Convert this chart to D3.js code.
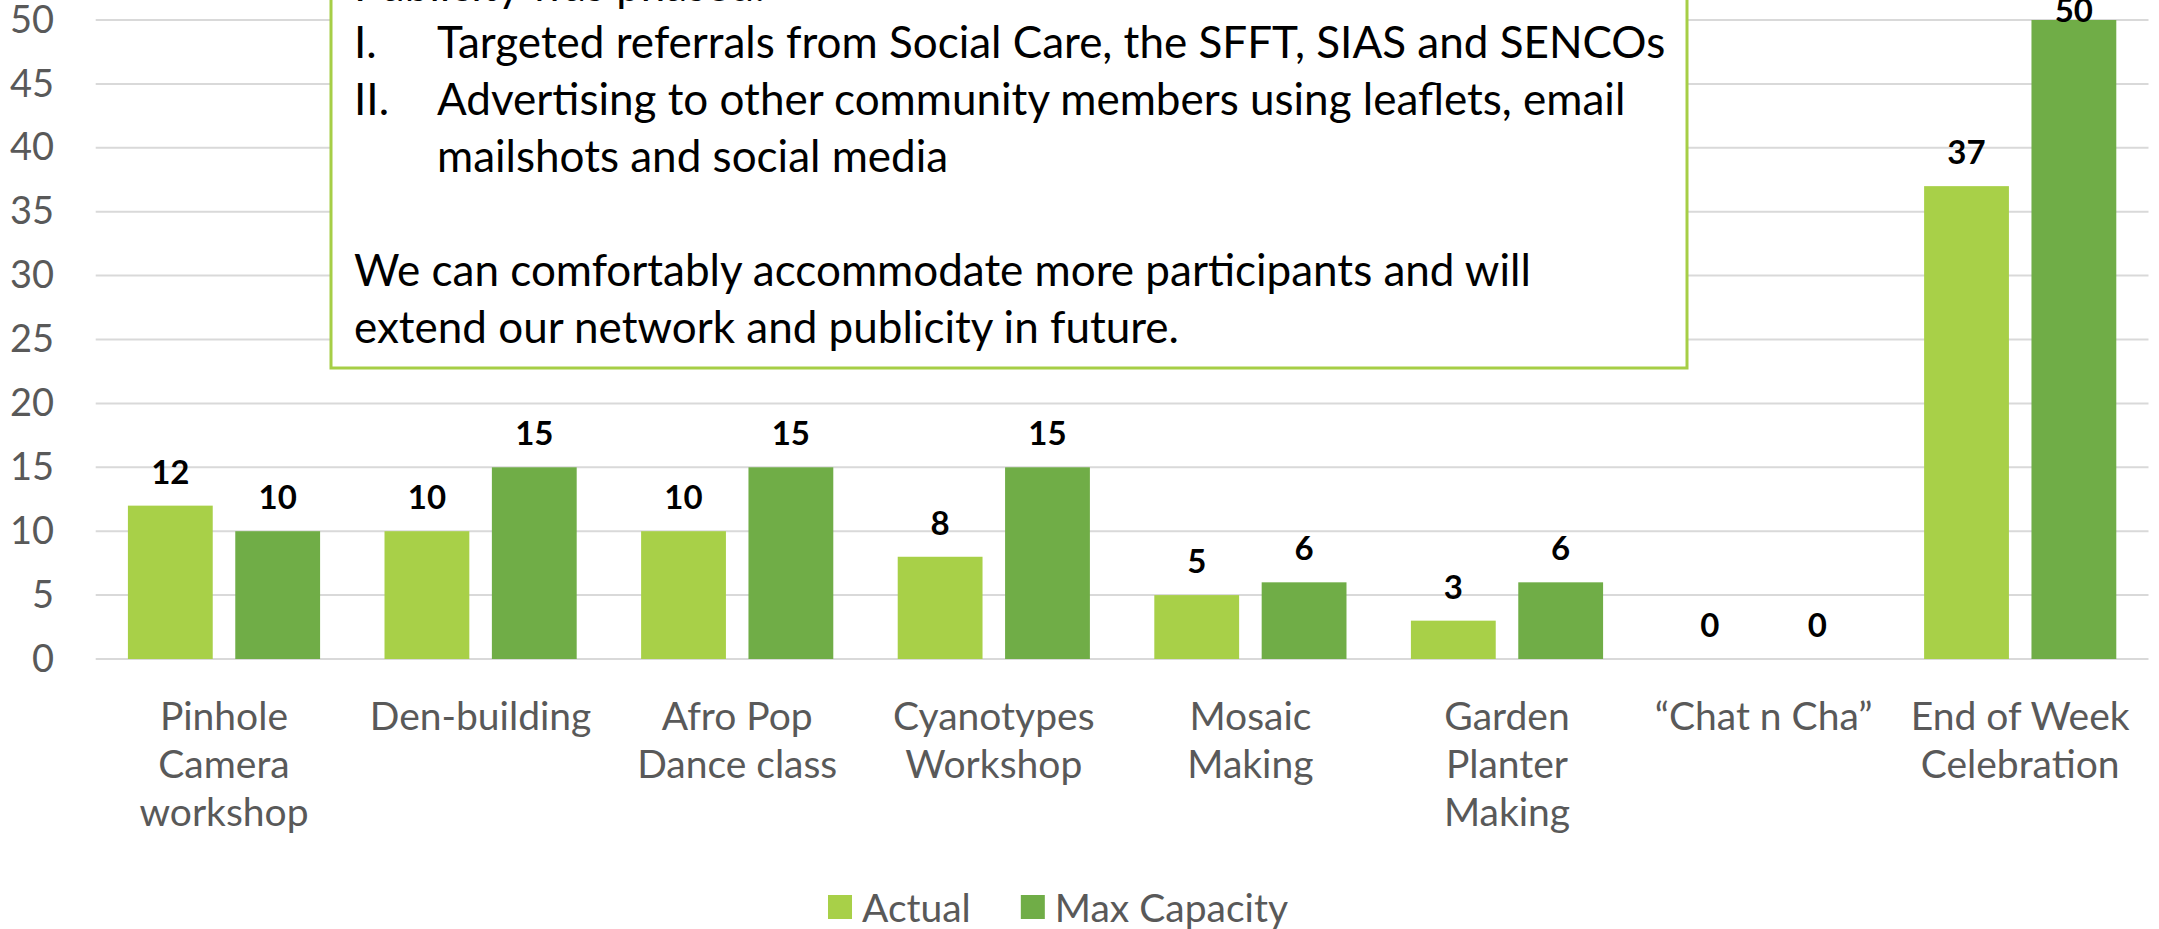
<!DOCTYPE html>
<html>
<head>
<meta charset="utf-8">
<script src="https://cdn.jsdelivr.net/npm/d3@7"></script>
<style>
  body { margin: 0; background: #fff; }
  svg { display: block; font-family: Lato, "Open Sans", sans-serif; }
</style>
</head>
<body>
<div id="chart"></div>
<script>
// Chart data
const categories = [
  "Pinhole Camera workshop", "Den-building", "Afro Pop Dance class",
  "Cyanotypes Workshop", "Mosaic Making", "Garden Planter Making",
  "\u201CChat n Cha\u201D", "End of Week Celebration"
];
// wrapped axis labels, one array per category
const categoryLines = [
  ["Pinhole", "Camera", "workshop"],
  ["Den-building"],
  ["Afro Pop", "Dance class"],
  ["Cyanotypes", "Workshop"],
  ["Mosaic", "Making"],
  ["Garden", "Planter", "Making"],
  ["\u201CChat n Cha\u201D"],
  ["End of Week", "Celebration"]
];
const seriesNames = ["Actual", "Max Capacity"];
const actualValues = [12, 10, 10, 8, 5, 3, 0, 37];
const maxCapacityValues = [10, 15, 15, 15, 6, 6, 0, 50];
const yTickValues = [0, 5, 10, 15, 20, 25, 30, 35, 40, 45, 50];

// Text box content
const noteLines = [
  { num: "", text: "Publicity was phased:" },
  { num: "I.", text: "Targeted referrals from Social Care, the SFFT, SIAS and SENCOs" },
  { num: "II.", text: "Advertising to other community members using leaflets, email" },
  { num: " ", text: "mailshots and social media" },
  { num: "", text: "" },
  { num: "", text: "We can comfortably accommodate more participants and will" },
  { num: "", text: "extend our network and publicity in future." }
];

const width = 2159;
const height = 929;
const colors = { "Actual": "#A8D048", "Max Capacity": "#70AD47" };

const svg = d3.select("#chart")
  .append("svg")
  .attr("width", width)
  .attr("height", height);

// Scales
const x0 = d3.scaleBand()
  .domain(categories)
  .range([95.7, 2148.5])
  .padding(0);

const x1 = d3.scaleBand()
  .domain(seriesNames)
  .range([0, x0.bandwidth()])
  .paddingInner(0.21)
  .paddingOuter(0.3);

const y = d3.scaleLinear()
  .domain([0, 50])
  .range([659, 20]);

// Gridlines
svg.append("g")
  .selectAll("line")
  .data(yTickValues)
  .join("line")
  .attr("x1", x0.range()[0])
  .attr("x2", x0.range()[1])
  .attr("y1", d => y(d))
  .attr("y2", d => y(d))
  .attr("stroke", "#D9D9D9")
  .attr("stroke-width", 2);

// Y axis labels
const yAxis = d3.axisLeft(y)
  .tickValues(yTickValues)
  .tickSize(0)
  .tickPadding(0);

svg.append("g")
  .attr("transform", "translate(54,0)")
  .call(yAxis)
  .call(g => g.select(".domain").remove())
  .selectAll("text")
  .attr("fill", "#595959")
  .style("font-size", "38px")
  .style("font-family", "Lato, sans-serif");

// Bars
const rows = categories.map((c, i) => ({
  category: c,
  values: [
    { key: "Actual", value: actualValues[i] },
    { key: "Max Capacity", value: maxCapacityValues[i] }
  ]
}));

const groups = svg.append("g")
  .selectAll("g")
  .data(rows)
  .join("g")
  .attr("transform", d => `translate(${x0(d.category)},0)`);

groups.selectAll("rect")
  .data(d => d.values)
  .join("rect")
  .attr("x", d => x1(d.key))
  .attr("y", d => y(d.value))
  .attr("width", x1.bandwidth())
  .attr("height", d => y(0) - y(d.value))
  .attr("fill", d => colors[d.key]);

// Data labels (kept inside the chart area like Excel does)
groups.selectAll("text")
  .data(d => d.values)
  .join("text")
  .attr("x", d => x1(d.key) + x1.bandwidth() / 2)
  .attr("y", d => Math.max(y(d.value) - 22, 22))
  .attr("text-anchor", "middle")
  .attr("font-weight", "bold")
  .style("font-size", "33px")
  .attr("fill", "#000")
  .text(d => d.value);

// X axis labels
const xAxis = d3.axisBottom(x0).tickSize(0).tickFormat("");
svg.append("g")
  .attr("transform", `translate(0,${y(0)})`)
  .call(xAxis)
  .call(g => g.select(".domain").remove());

svg.append("g")
  .selectAll("text")
  .data(categories)
  .join("text")
  .attr("x", d => x0(d) + x0.bandwidth() / 2)
  .attr("y", 730)
  .attr("text-anchor", "middle")
  .attr("fill", "#595959")
  .style("font-size", "39px")
  .selectAll("tspan")
  .data((d, i) => categoryLines[i])
  .join("tspan")
  .attr("x", function () { return this.parentNode.getAttribute("x"); })
  .attr("dy", (d, i) => i === 0 ? 0 : 48)
  .text(d => d);

// Legend, centred under the chart
const legend = svg.append("g");
const legendItems = legend.selectAll("g")
  .data(seriesNames)
  .join("g");

legendItems.append("rect")
  .attr("width", 24)
  .attr("height", 24)
  .attr("y", 895)
  .attr("fill", d => colors[d]);

legendItems.append("text")
  .attr("x", 34)
  .attr("y", 922)
  .attr("fill", "#595959")
  .style("font-size", "39px")
  .text(d => d);

let lx = 0;
legendItems.each(function () {
  const w = this.getBBox().width;
  d3.select(this).attr("transform", `translate(${lx},0)`);
  lx += w + 50;
});
lx -= 50;
legend.attr("transform", `translate(${1058 - lx / 2},0)`);

// Text box over the chart
const box = svg.append("g");
box.append("rect")
  .attr("x", 331)
  .attr("y", -100)
  .attr("width", 1356)
  .attr("height", 468)
  .attr("fill", "#fff")
  .attr("stroke", "#A6CE46")
  .attr("stroke-width", 3);

const lineHeight = 57;
const noteRows = box.selectAll("g.note")
  .data(noteLines)
  .join("g")
  .attr("class", "note")
  .attr("transform", (d, i) => `translate(0,${0.5 + i * lineHeight})`);

noteRows.append("text")
  .attr("x", 354)
  .style("font-size", "44px")
  .attr("fill", "#000")
  .text(d => d.num.trim());

noteRows.append("text")
  .attr("x", d => d.num ? 437 : 354)
  .style("font-size", "44px")
  .attr("fill", "#000")
  .text(d => d.text);
</script>
</body>
</html>
